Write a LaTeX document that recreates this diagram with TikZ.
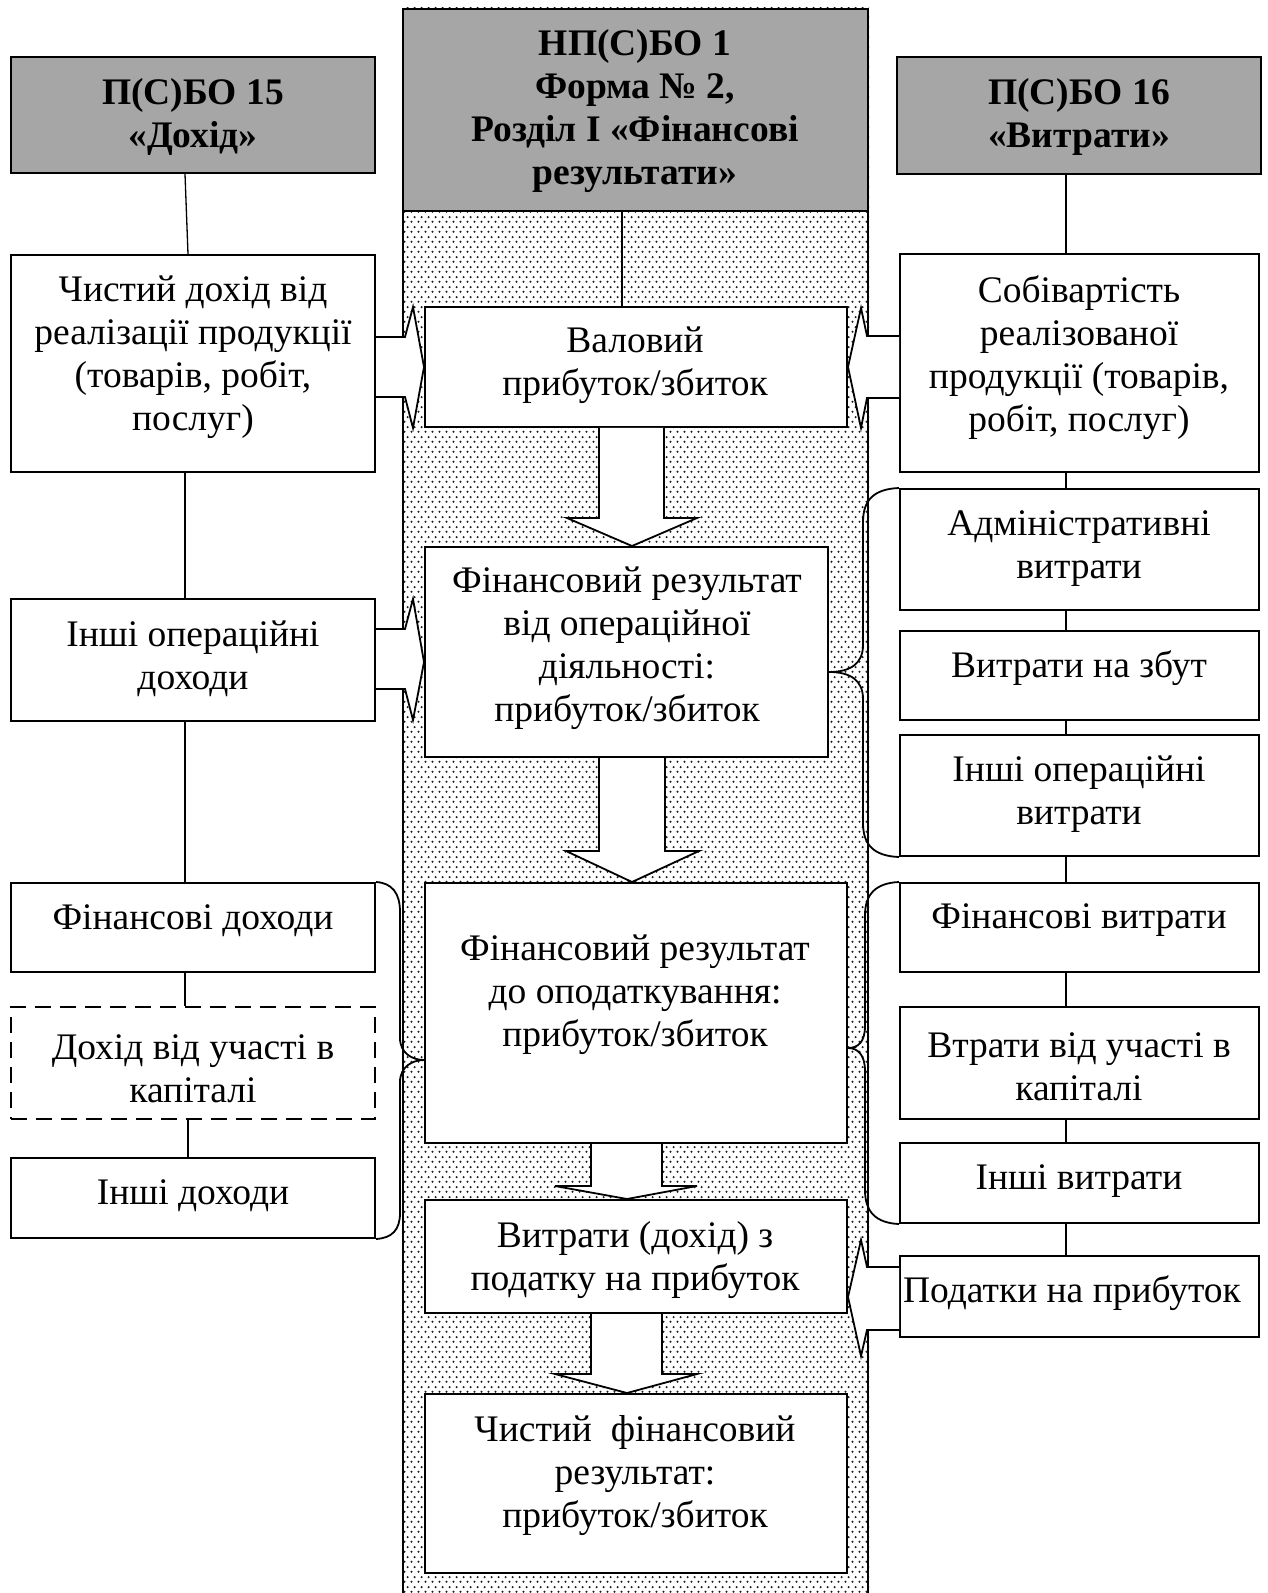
\documentclass[tikz,border=0pt]{standalone}
\usepackage{fontspec}
\setmainfont{Liberation Serif}
\usetikzlibrary{patterns,fit}
\definecolor{hdrgray}{RGB}{166,166,166}
\pgfdeclarepatternformonly{sdots}{\pgfpointorigin}{\pgfqpoint{3.3pt}{5pt}}{\pgfqpoint{3.3pt}{5pt}}{%
  \pgfpathcircle{\pgfqpoint{0.8pt}{1.25pt}}{0.62pt}%
  \pgfpathcircle{\pgfqpoint{2.45pt}{3.75pt}}{0.62pt}%
  \pgfusepath{fill}}
\tikzset{
 box/.style={draw, line width=1pt, fill=white, inner sep=0pt},
 hdrbox/.style={box, fill=hdrgray},
 dbox/.style={box, dash pattern=on 8pt off 4.5pt, line width=1.4pt},
 txt/.style={align=center, inner sep=0pt, yshift=-1.75pt, font=\fontsize{18.75}{21.5}\selectfont},
 htxt/.style={align=center, inner sep=0pt, yshift=-1.5pt, font=\fontsize{18.75}{21.5}\selectfont\bfseries},
 conn/.style={line width=0.65pt},
 barrow/.style={draw, fill=white, line width=0.9pt, line join=miter},
 brace/.style={line width=0.9pt},
}
\begin{document}
\begin{tikzpicture}[x=0.5pt,y=-0.5pt]
\useasboundingbox (0,0) rectangle (1267,1593);
% central dotted column
\node[fit={(403,9) (868,1620)}, draw, line width=1pt, fill=white, inner sep=0pt] (col) {};
\fill[pattern=sdots, pattern color=black!90] (col.north west) rectangle (col.south east);
\node[hdrbox, fit={(403,9) (868,211)}] (hc) {};
% left column
\node[hdrbox, fit={(11,57) (375,173)}] (hl) {};
\node[box, fit={(11,255) (375,472)}] (l1) {};
\node[box, fit={(11,599) (375,721)}] (l2) {};
\node[box, fit={(11,883) (375,972)}] (l3) {};
\node[dbox, fit={(11,1007) (375,1119)}] (l4) {};
\node[box, fit={(11,1158) (375,1238)}] (l5) {};
% right column
\node[hdrbox, fit={(897,57) (1261,174)}] (hr) {};
\node[box, fit={(900,254) (1259,472)}] (r1) {};
\node[box, fit={(900,489) (1259,610)}] (r2) {};
\node[box, fit={(900,631) (1259,720)}] (r3) {};
\node[box, fit={(900,735) (1259,856)}] (r4) {};
\node[box, fit={(900,883) (1259,972)}] (r5) {};
\node[box, fit={(900,1007) (1259,1119)}] (r6) {};
\node[box, fit={(900,1143) (1259,1223)}] (r7) {};
\node[box, fit={(900,1256) (1259,1337)}] (r8) {};
% center boxes
\node[box, fit={(425,307) (847,427)}] (c1) {};
\node[box, fit={(425,547) (828,757)}] (c2) {};
\node[box, fit={(425,883) (847,1143)}] (c3) {};
\node[box, fit={(425,1200) (847,1313)}] (c4) {};
\node[box, fit={(425,1394) (847,1573)}] (c5) {};
% connector helper coordinates
\coordinate (lxa) at (185,0);
\coordinate (lxb) at (188,0);
\coordinate (rx) at (1066,0);
\coordinate (cx) at (622,0);
\draw[conn] (hl.south -| lxa) -- (l1.north -| lxb);
\draw[conn] (l1.south -| lxa) -- (l2.north -| lxa);
\draw[conn] (l2.south -| lxa) -- (l3.north -| lxa);
\draw[conn] (l3.south -| lxa) -- (l4.north -| lxa);
\draw[conn] (l4.south -| lxb) -- (l5.north -| lxb);
\draw[conn] (hc.south -| cx) -- (c1.north -| cx);
\draw[conn] (hr.south -| rx) -- (r1.north -| rx);
\draw[conn] (r1.south -| rx) -- (r2.north -| rx);
\draw[conn] (r2.south -| rx) -- (r3.north -| rx);
\draw[conn] (r3.south -| rx) -- (r4.north -| rx);
\draw[conn] (r4.south -| rx) -- (r5.north -| rx);
\draw[conn] (r5.south -| rx) -- (r6.north -| rx);
\draw[conn] (r6.south -| rx) -- (r7.north -| rx);
\draw[conn] (r7.south -| rx) -- (r8.north -| rx);
% block arrows (horizontal)
\draw[barrow] (l1.east |- 0,337) -- (405,337) -- (413,307) -- (c1.west |- 0,367) -- (413,428) -- (405,397) -- (l1.east |- 0,397);
\draw[barrow] (l2.east |- 0,629) -- (405,629) -- (413,599) -- (c2.west |- 0,662) -- (413,720) -- (405,689) -- (l2.east |- 0,689);
\draw[barrow] (r1.west |- 0,336) -- (867,336) -- (861,308) -- (c1.east |- 0,367) -- (861,428) -- (867,398) -- (r1.west |- 0,398);
\draw[barrow] (r8.west |- 0,1267) -- (867,1267) -- (861,1240) -- (c4.east |- 0,1297) -- (861,1356) -- (867,1330) -- (r8.west |- 0,1330);
% block arrows (down)
\draw[barrow] (c1.south -| 599,0) -- (599,518) -- (567,518) -- (c2.north -| 632,0) -- (697,518) -- (664,518) -- (c1.south -| 664,0);
\draw[barrow] (c2.south -| 599,0) -- (599,851) -- (566,851) -- (c3.north -| 632,0) -- (699,851) -- (665,851) -- (c2.south -| 665,0);
\draw[barrow] (c3.south -| 591,0) -- (591,1186) -- (555,1186) -- (c4.north -| 627,0) -- (697,1186) -- (662,1186) -- (c3.south -| 662,0);
\draw[barrow] (c4.south -| 591,0) -- (591,1374) -- (555,1374) -- (c5.north -| 627,0) -- (697,1374) -- (662,1374) -- (c4.south -| 662,0);
% braces
\draw[brace] (r2.north west) .. controls (874,489) and (863,500) .. (863,522) -- (863,645) .. controls (863,664) and (850,672) .. (c2.east |- 0,672) .. controls (850,672) and (863,680) .. (863,699) -- (863,823) .. controls (863,845) and (874,856) .. (r4.south west);
\draw[brace] (r5.north west) .. controls (876,883) and (865,894) .. (865,915) -- (865,1026) .. controls (865,1042) and (858,1048) .. (c3.east |- 0,1048) .. controls (858,1048) and (865,1055) .. (865,1071) -- (865,1190) .. controls (865,1212) and (876,1223) .. (r7.south west);
\draw[brace] (l3.north east) .. controls (392,883) and (400,893) .. (400,912) -- (400,1038) .. controls (400,1053) and (412,1060) .. (c3.west |- 0,1060) .. controls (412,1060) and (400,1067) .. (400,1082) -- (400,1213) .. controls (400,1230) and (392,1238) .. (l5.south east);
% texts
\node[htxt] (thl) at (193,114) {П(С)БО 15\\«Дохід»};
\node[htxt] (thc) at (635,108) {НП(С)БО 1\\Форма № 2,\\Розділ І «Фінансові\\результати»};
\node[htxt] (thr) at (1079,114) {П(С)БО 16\\«Витрати»};
\node[txt] (tl1) at (193,354) {Чистий дохід від\\реалізації продукції\\(товарів, робіт,\\послуг)};
\node[txt] (tl2) at (193,655) {Інші операційні\\доходи};
\node[txt] (tl3) at (193,917) {Фінансові доходи};
\node[txt] (tl4) at (193,1065) {Дохід від участі в\\капіталі};
\node[txt] (tl5) at (193,1192) {Інші доходи};
\node[txt] (tc1) at (635,362) {Валовий\\прибуток/збиток};
\node[txt] (tc2) at (627,645) {Фінансовий результат\\від операційної\\діяльності:\\прибуток/збиток};
\node[txt] (tc3) at (635,991) {Фінансовий результат\\до оподаткування:\\прибуток/збиток};
\node[txt] (tc4) at (635,1257) {Витрати (дохід) з\\податку на прибуток};
\node[txt] (tc5) at (635,1472) {Чистий\ \ фінансовий\\результат:\\прибуток/збиток};
\node[txt] (tr1) at (1079,354) {Собівартість\\реалізованої\\продукції (товарів,\\робіт, послуг)};
\node[txt] (tr2) at (1079,545) {Адміністративні\\витрати};
\node[txt] (tr3) at (1079,665) {Витрати на збут};
\node[txt] (tr4) at (1079,791) {Інші операційні\\витрати};
\node[txt] (tr5) at (1079,917) {Фінансові витрати};
\node[txt] (tr6) at (1079,1063) {Втрати від участі в\\капіталі};
\node[txt] (tr7) at (1079,1178) {Інші витрати};
\node[txt] (tr8) at (1072,1290) {Податки на прибуток};
\end{tikzpicture}
\end{document}
